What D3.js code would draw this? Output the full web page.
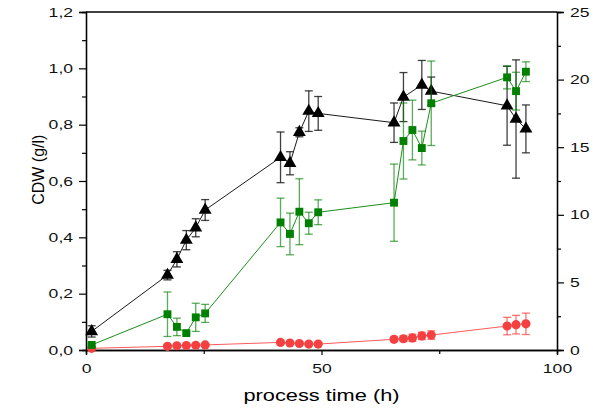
<!DOCTYPE html>
<html>
<head>
<meta charset="utf-8">
<script src="https://cdnjs.cloudflare.com/ajax/libs/d3/7.8.5/d3.min.js"></script>
<style>
  body { margin: 0; background: #fff; }
  svg text { font-family: "Liberation Sans", Arial, sans-serif; }
</style>
</head>
<body>
<div class="chart"></div>
<script>
// time points (h) and CDW values (g/l)
var blackTime = [1.2, 17.3, 19.3, 21.3, 23.3, 25.3, 41.3, 43.3, 45.3, 47.3, 49.3, 65.4, 67.4, 71.3, 73.3, 89.4, 91.3, 93.4];
var blackValue = [0.066, 0.266, 0.322, 0.39, 0.434, 0.497, 0.684, 0.663, 0.773, 0.848, 0.84, 0.807, 0.898, 0.941, 0.919, 0.867, 0.82, 0.785];
var blackError = [0.02, 0.017, 0.027, 0.034, 0.032, 0.037, 0.09, 0.041, 0.016, 0.072, 0.06, 0.07, 0.087, 0.087, 0.05, 0.14, 0.21, 0.085];

var greenTime = [1.2, 17.3, 19.3, 21.3, 23.3, 25.3, 41.3, 43.3, 45.3, 47.3, 49.3, 65.4, 67.4, 69.3, 71.3, 73.3, 89.4, 91.3, 93.4];
var greenValue = [0.018, 0.127, 0.082, 0.06, 0.116, 0.13, 0.453, 0.412, 0.491, 0.45, 0.489, 0.523, 0.742, 0.781, 0.717, 0.876, 0.968, 0.919, 0.988];
var greenError = [0.004, 0.079, 0.031, 0.004, 0.05, 0.032, 0.086, 0.074, 0.117, 0.039, 0.044, 0.137, 0.135, 0.106, 0.06, 0.15, 0.041, 0.067, 0.035];

var redTime = [1.2, 17.3, 19.3, 21.3, 23.3, 25.3, 41.3, 43.3, 45.3, 47.3, 49.3, 65.4, 67.4, 69.3, 71.3, 73.3, 89.4, 91.3, 93.4];
var redValue = [0.006, 0.013, 0.015, 0.016, 0.017, 0.018, 0.027, 0.025, 0.023, 0.021, 0.021, 0.038, 0.04, 0.043, 0.05, 0.053, 0.085, 0.09, 0.093];
var redError = [0.002, 0.003, 0.003, 0.003, 0.003, 0.003, 0.003, 0.003, 0.003, 0.003, 0.003, 0.008, 0.01, 0.013, 0.013, 0.015, 0.031, 0.033, 0.038];

var xTicks = [0, 50, 100];
var yLeftTicks = [0, 0.2, 0.4, 0.6, 0.8, 1.0, 1.2];
var yRightTicks = [0, 5, 10, 15, 20, 25];

var svg = d3.select(".chart").append("svg")
    .attr("width", 593)
    .attr("height", 408);

var x = d3.scaleLinear().domain([0, 100]).range([86, 557]);
var y = d3.scaleLinear().domain([0, 1.2]).range([350, 12]);
var y2 = d3.scaleLinear().domain([0, 25]).range([350, 12]);

var fmt = function (d) { return d3.format(".1f")(d).replace(".", ","); };

// the original lettering is wide, so stretch text sideways
function widen(sel, k) {
    sel.each(function () {
        var len = this.getComputedTextLength();
        d3.select(this).attr("textLength", len * k).attr("lengthAdjust", "spacingAndGlyphs");
    });
}

// frame
svg.append("line").attr("x1", x(0)).attr("x2", x(100)).attr("y1", y(1.2)).attr("y2", y(1.2))
    .attr("stroke", "#000").attr("stroke-width", 1.3);

// bottom axis
svg.append("g").attr("transform", "translate(0," + y(0) + ")")
    .call(d3.axisBottom(x).tickValues(xTicks).tickSize(5).tickPadding(9).tickFormat(d3.format("d")));
svg.append("g").attr("transform", "translate(0," + y(0) + ")")
    .call(d3.axisBottom(x).tickValues([25, 75]).tickSize(4).tickFormat(""));

// left axis
svg.append("g").attr("transform", "translate(" + x(0) + ",0)")
    .call(d3.axisLeft(y).tickValues(yLeftTicks).tickSize(7).tickPadding(6).tickFormat(fmt));
svg.append("g").attr("transform", "translate(" + x(0) + ",0)")
    .call(d3.axisLeft(y).tickValues([0.1, 0.3, 0.5, 0.7, 0.9, 1.1]).tickSize(4).tickFormat(""));

// right axis
svg.append("g").attr("transform", "translate(" + x(100) + ",0)")
    .call(d3.axisRight(y2).tickValues(yRightTicks).tickSize(7).tickPadding(6));
svg.append("g").attr("transform", "translate(" + x(100) + ",0)")
    .call(d3.axisRight(y2).tickValues([2.5, 7.5, 12.5, 17.5, 22.5]).tickSize(4).tickFormat(""));

svg.selectAll(".domain").attr("stroke", "#000").attr("stroke-width", 1.3);
svg.selectAll(".tick line").attr("stroke", "#000").attr("stroke-width", 1.2);
svg.selectAll(".tick text").style("font-size", "13px").attr("fill", "#111");
widen(svg.selectAll(".tick text"), 1.35);

// axis titles
var xTitle = svg.append("text")
    .attr("x", x(50)).attr("y", 401)
    .attr("text-anchor", "middle")
    .style("font-size", "17px")
    .text("process time (h)");
widen(xTitle, 1.28);

svg.append("text")
    .attr("transform", "translate(44," + y(0.64) + ") rotate(-90)")
    .attr("text-anchor", "middle")
    .style("font-size", "16px")
    .text("CDW (g/l)");

// draw one series: line, error bars, markers
function drawSeries(times, values, errors, lineColor, lineWidth, errColor, marker, markerColor) {
    var pts = times.map(function (t, i) { return { t: t, v: values[i], e: errors[i] }; });
    var g = svg.append("g");

    g.append("path")
        .datum(pts)
        .attr("fill", "none")
        .attr("stroke", lineColor)
        .attr("stroke-width", lineWidth)
        .attr("d", d3.line().x(function (d) { return x(d.t); }).y(function (d) { return y(d.v); }));

    var eb = g.selectAll(".eb").data(pts).enter().append("g").attr("stroke", errColor).attr("stroke-width", 1.3);
    eb.append("line")
        .attr("x1", function (d) { return x(d.t); }).attr("x2", function (d) { return x(d.t); })
        .attr("y1", function (d) { return y(d.v - d.e); }).attr("y2", function (d) { return y(d.v + d.e); });
    [-1, 1].forEach(function (s) {
        eb.append("line")
            .attr("x1", function (d) { return x(d.t) - 4; }).attr("x2", function (d) { return x(d.t) + 4; })
            .attr("y1", function (d) { return y(d.v + s * d.e); }).attr("y2", function (d) { return y(d.v + s * d.e); });
    });

    g.selectAll(".mk").data(pts).enter().append("path")
        .attr("transform", function (d) { return "translate(" + x(d.t) + "," + y(d.v) + ")"; })
        .attr("d", marker)
        .attr("fill", markerColor);
}

drawSeries(redTime, redValue, redError, "#ff5a5a", 1, "rgba(255,70,70,0.75)",
    d3.symbol().type(d3.symbolCircle).size(66)(), "#f44040");
drawSeries(blackTime, blackValue, blackError, "#000", 0.9, "rgba(30,30,30,0.85)",
    d3.symbol().type(d3.symbolTriangle).size(72)(), "#000");
drawSeries(greenTime, greenValue, greenError, "#1a8f1a", 1, "rgba(0,128,0,0.65)",
    d3.symbol().type(d3.symbolSquare).size(62)(), "#008000");
</script>
</body>
</html>
